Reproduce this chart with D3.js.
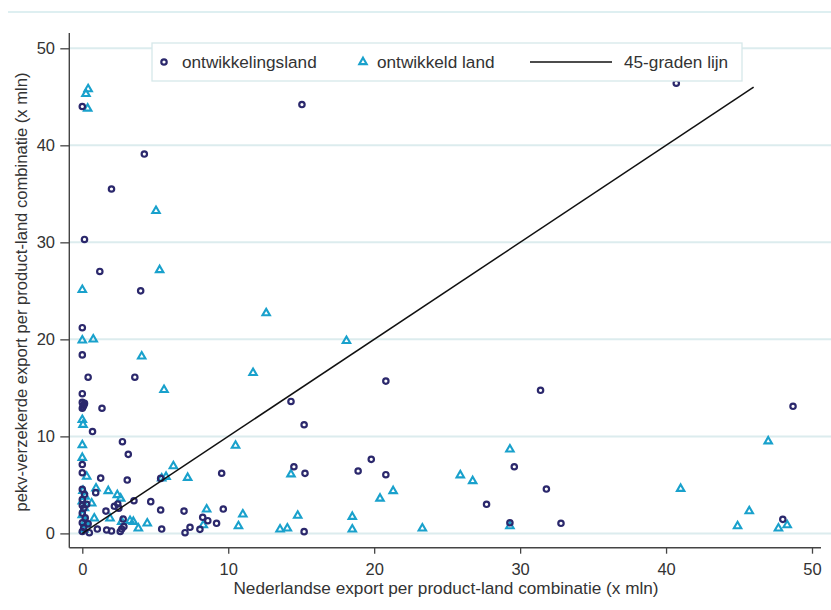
<!DOCTYPE html>
<html>
<head>
<meta charset="utf-8">
<script src="https://cdn.jsdelivr.net/npm/d3@7"></script>
<style>
  body { margin: 0; background: #fff; }
  svg { display: block; font-family: 'Liberation Sans', Arial, sans-serif; }
</style>
</head>
<body>
<div id="chart"></div>
<script>
// ontwikkelingsland: [Nederlandse export, pekv-verzekerde export] (x mln)
const ontwikkelingsland = [
  [0.0, 44.0], [0.15, 30.3], [1.2, 27.0], [2.0, 35.5], [4.25, 39.1], [4.0, 25.0],
  [15.05, 44.2], [40.7, 46.4], [0.0, 21.2], [0.0, 18.4], [0.4, 16.1], [3.6, 16.1],
  [0.0, 14.4], [0.0, 13.5], [0.1, 13.2], [0.0, 12.9], [0.15, 13.4], [0.05, 13.05],
  [1.35, 12.9],
  [0.7, 10.5], [2.75, 9.45], [3.15, 8.15], [20.8, 15.7], [14.3, 13.6], [15.2, 11.2],
  [31.4, 14.75], [48.7, 13.1],
  [0.0, 7.1], [0.0, 6.25], [1.26, 5.7], [3.08, 5.5], [0.0, 4.55], [0.92, 4.2],
  [5.37, 5.67], [9.55, 6.2], [14.5, 6.87], [15.26, 6.19], [18.9, 6.43], [19.8, 7.63],
  [20.8, 6.05], [29.6, 6.87], [31.8, 4.57], [27.7, 3.0], [29.3, 1.1], [32.8, 1.04],
  [48.0, 1.45], [3.54, 3.37], [4.69, 3.27], [1.62, 2.3], [2.43, 3.03], [2.2, 2.8],
  [2.5, 2.6], [5.37, 2.41], [6.97, 2.3], [9.66, 2.51], [8.25, 1.66], [8.6, 1.31],
  [9.2, 1.04], [7.38, 0.63], [7.04, 0.07], [5.44, 0.45], [8.06, 0.42], [15.2, 0.18],
  [0.48, 0.07], [1.03, 0.45], [1.67, 0.35], [2.0, 0.25], [2.7, 0.45], [2.6, 0.2],
  [2.85, 0.7], [2.8, 1.48],
  [0.0, 0.2], [0.1, 0.6], [0.0, 1.1], [0.2, 1.6], [0.0, 2.1], [0.1, 2.6], [0.3, 3.0],
  [0.0, 3.5], [0.15, 4.0], [0.0, 2.9], [0.4, 1.0]
];

// ontwikkeld land
const ontwikkeldLand = [
  [0.4, 45.8], [0.25, 45.3], [0.37, 43.8], [5.05, 33.25], [5.3, 27.15], [0.0, 25.1],
  [12.6, 22.7], [0.0, 19.9], [0.75, 20.0], [18.1, 19.85], [4.07, 18.25], [11.7, 16.55],
  [5.6, 14.8], [0.0, 11.7], [0.05, 11.2], [0.0, 9.1], [10.5, 9.05], [0.0, 7.8],
  [0.3, 5.85], [6.24, 6.94], [5.74, 5.84], [5.44, 5.67], [7.22, 5.74], [14.3, 6.1],
  [0.94, 4.65], [1.78, 4.37], [2.4, 3.96], [2.63, 3.6], [0.64, 3.1], [0.82, 1.55],
  [1.9, 1.55], [2.7, 1.2], [3.5, 1.2], [3.27, 1.3], [3.84, 0.52], [4.45, 1.04],
  [8.52, 2.48], [8.29, 0.86], [11.0, 1.97], [14.76, 1.83], [18.5, 1.72], [10.7, 0.76],
  [13.55, 0.42], [14.05, 0.52], [18.5, 0.42], [29.3, 8.66], [25.9, 6.0], [26.75, 5.4],
  [21.3, 4.37], [20.4, 3.6], [23.3, 0.52], [29.3, 0.76], [47.0, 9.5], [41.0, 4.6],
  [45.7, 2.3], [44.9, 0.76], [48.3, 0.86], [47.7, 0.52],
  [0.1, 0.4], [0.2, 1.2], [0.0, 1.9], [0.15, 2.6], [0.0, 3.3], [0.2, 3.8], [0.05, 4.4],
  [0.3, 0.9]
];

const lijn45 = [0, 46];
const xTicks = [0, 10, 20, 30, 40, 50];
const yTicks = [0, 10, 20, 30, 40, 50];
const legendLabels = ['ontwikkelingsland', 'ontwikkeld land', '45-graden lijn'];
const xTitle = 'Nederlandse export per product-land combinatie (x mln)';
const yTitle = 'pekv-verzekerde export per product-land combinatie (x mln)';

const width = 831, height = 610;
const kleurDonker = '#2b286c', kleurLicht = '#19a1cc', kleurGrid = '#dcecee';

const svg = d3.select('#chart').append('svg')
  .attr('width', width)
  .attr('height', height);

// schalen
const xScale = d3.scaleLinear().domain([0, 50]).range([82.3, 812]);
const yScale = d3.scaleLinear().domain([0, 50]).range([533.4, 48.3]);
const axisX = 69.3, axisY = 547.7;

// lijn bovenaan (kop)
svg.append('line')
  .attr('x1', 8).attr('x2', width).attr('y1', 12).attr('y2', 12)
  .attr('stroke', '#d3eaec').attr('stroke-width', 1.5);

// gridlijnen
svg.append('g').selectAll('line')
  .data(yTicks)
  .enter().append('line')
  .attr('x1', axisX).attr('x2', width)
  .attr('y1', d => yScale(d)).attr('y2', d => yScale(d))
  .attr('stroke', kleurGrid).attr('stroke-width', 2);

// assen
const yAxis = d3.axisLeft(yScale).tickValues(yTicks).tickSize(9).tickPadding(5.3);
const gy = svg.append('g')
  .attr('transform', 'translate(' + axisX + ',0)')
  .call(yAxis);
gy.select('.domain').remove();
gy.selectAll('line').attr('stroke', '#444').attr('stroke-width', 1.3);
gy.selectAll('text').attr('fill', '#333').style('font-size', '16.5px')
  .style('font-family', "'Liberation Sans', Arial, sans-serif");

const xAxis = d3.axisBottom(xScale).tickValues(xTicks).tickSize(6).tickPadding(9.3);
const gx = svg.append('g')
  .attr('transform', 'translate(0,' + axisY + ')')
  .call(xAxis);
gx.select('.domain').remove();
gx.selectAll('line').attr('stroke', '#444').attr('stroke-width', 1.3);
gx.selectAll('text').attr('fill', '#333').style('font-size', '16.5px')
  .style('font-family', "'Liberation Sans', Arial, sans-serif");

svg.append('line')
  .attr('x1', axisX).attr('x2', axisX).attr('y1', 33).attr('y2', axisY)
  .attr('stroke', '#444').attr('stroke-width', 1.4);
svg.append('line')
  .attr('x1', axisX).attr('x2', 821).attr('y1', axisY).attr('y2', axisY)
  .attr('stroke', '#444').attr('stroke-width', 1.4);

// titels
svg.append('text')
  .attr('x', 446).attr('y', 594)
  .attr('text-anchor', 'middle')
  .attr('fill', '#333').style('font-size', '17.2px')
  .text(xTitle);
svg.append('text')
  .attr('transform', 'translate(27,292) rotate(-90)')
  .attr('text-anchor', 'middle')
  .attr('fill', '#333').style('font-size', '16.6px')
  .text(yTitle);

// punten
const driehoek = d3.symbol().type(d3.symbolTriangle).size(24);
svg.append('g').selectAll('path')
  .data(ontwikkeldLand)
  .enter().append('path')
  .attr('d', driehoek)
  .attr('transform', d => 'translate(' + xScale(d[0]) + ',' + yScale(d[1]) + ')')
  .attr('fill', 'none')
  .attr('stroke', kleurLicht)
  .attr('stroke-width', 2.1);

svg.append('g').selectAll('circle')
  .data(ontwikkelingsland)
  .enter().append('circle')
  .attr('cx', d => xScale(d[0]))
  .attr('cy', d => yScale(d[1]))
  .attr('r', 2.7)
  .attr('fill', 'none')
  .attr('stroke', kleurDonker)
  .attr('stroke-width', 2.2);

// 45-graden lijn
const lijn = d3.line()
  .x(d => xScale(d))
  .y(d => yScale(d));
svg.append('path')
  .attr('d', lijn(lijn45))
  .attr('stroke', '#111')
  .attr('stroke-width', 1.5)
  .attr('fill', 'none');

// legenda
const legend = svg.append('g');
legend.append('rect')
  .attr('x', 152).attr('y', 43).attr('width', 590).attr('height', 38)
  .attr('fill', '#fff').attr('stroke', '#d6e8ea').attr('stroke-width', 1.3);
const legY = 62;
legend.append('circle')
  .attr('cx', 164).attr('cy', legY).attr('r', 2.7)
  .attr('fill', 'none').attr('stroke', kleurDonker).attr('stroke-width', 2.2);
legend.append('path')
  .attr('d', driehoek)
  .attr('transform', 'translate(363,' + (legY) + ')')
  .attr('fill', 'none').attr('stroke', kleurLicht).attr('stroke-width', 2.1);
legend.append('line')
  .attr('x1', 530).attr('x2', 612).attr('y1', legY).attr('y2', legY)
  .attr('stroke', '#111').attr('stroke-width', 1.5);
const legX = [182, 377, 624];
legend.selectAll('text')
  .data(legendLabels)
  .enter().append('text')
  .attr('x', (d, i) => legX[i])
  .attr('y', legY + 6)
  .attr('fill', '#333')
  .style('font-size', '17.2px')
  .text(d => d);
</script>
</body>
</html>
